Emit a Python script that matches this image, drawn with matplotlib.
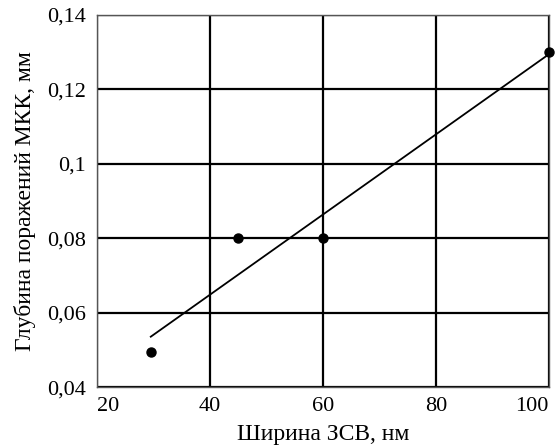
import numpy as np
import matplotlib
matplotlib.use("Agg")
import matplotlib.pyplot as plt

# data
width_nm = [29.5, 45, 60, 100]
depth_mm = [0.0495, 0.08, 0.08, 0.13]
x_ticks = [20, 40, 60, 80, 100]
y_ticks = [0.04, 0.06, 0.08, 0.1, 0.12, 0.14]
y_tick_labels = ["0,04", "0,06", "0,08", "0,1", "0,12", "0,14"]

plt.rcParams['font.family'] = ['Liberation Serif', 'DejaVu Serif']

fig = plt.figure(figsize=(5.55, 4.48), dpi=100)
ax = fig.add_axes([0.175, 0.136, 0.814, 0.831])

# linear trend through the points
k, b = np.polyfit(width_nm, depth_mm, 1)
xs = np.array([width_nm[0], width_nm[-1]])
ax.plot(xs, k * xs + b, color='black', lw=1.3, zorder=3)
ax.plot(width_nm, depth_mm, 'o', color='black', ms=6.5, zorder=4, clip_on=False)

ax.set_xlim(20, 100)
ax.set_ylim(0.04, 0.14)
ax.set_xticks(x_ticks)
ax.set_yticks(y_ticks)
ax.set_yticklabels(y_tick_labels)
ax.tick_params(length=0, labelsize=16)
ax.tick_params(axis='y', pad=8)
ax.tick_params(axis='x', pad=7)
xl = ax.get_xticklabels()
xl[0].set_horizontalalignment('left')
xl[-1].set_horizontalalignment('right')
ax.grid(True, color='black', lw=1.6)
for s in ax.spines.values():
    s.set_color('#555555')
    s.set_linewidth(1.0)

ax.set_xlabel("Ширина ЗСВ, нм", fontsize=17, labelpad=6)
ax.set_ylabel("Глубина поражений МКК, мм", fontsize=17, labelpad=8)

fig.savefig("out.png", dpi=100)
